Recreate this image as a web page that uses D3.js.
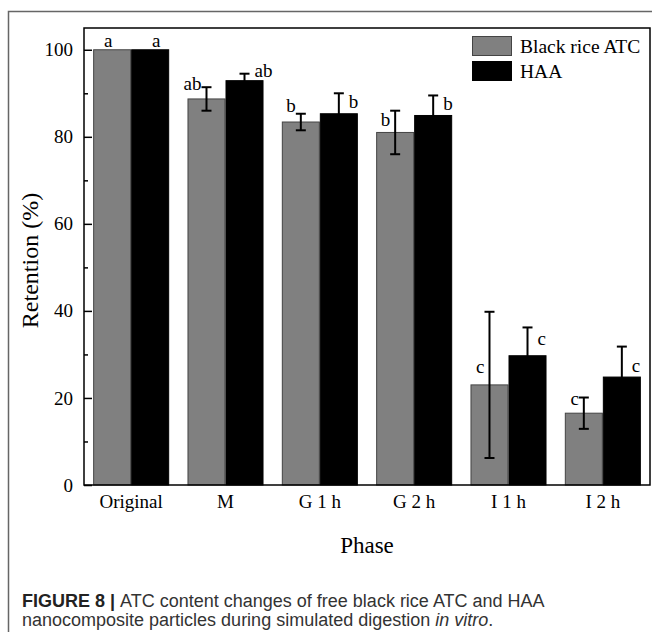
<!DOCTYPE html>
<html>
<head>
<meta charset="utf-8">
<script src="https://cdn.jsdelivr.net/npm/d3@7"></script>
<style>
  body { margin: 0; background: #fff; }
  svg { display: block; }
  .serif { font-family: "Liberation Serif", "Times New Roman", serif; }
</style>
</head>
<body>
<svg id="chart" width="652" height="632"></svg>
<script>
// values
const phases = ["Original", "M", "G 1 h", "G 2 h", "I 1 h", "I 2 h"];
const seriesNames = ["Black rice ATC", "HAA"];
const riceATC = [100, 88.7, 83.4, 81.0, 23.0, 16.5];
const riceErr = [0, 2.7, 1.9, 5.0, 16.8, 3.6];
const haa = [100, 92.9, 85.3, 84.9, 29.7, 24.8];
const haaErr = [0, 1.6, 4.7, 4.6, 6.5, 7.0];
const riceLetters = ["a", "ab", "b", "b", "c", "c"];
const haaLetters = ["a", "ab", "b", "b", "c", "c"];
// level (in %) at which each significance letter sits
const riceLetterAt = [100.7, 90.8, 85.7, 82.5, 25.7, 18.4];
const haaLetterAt = [100.7, 93.8, 86.7, 86.2, 32.2, 26.0];
const yTicks = [0, 20, 40, 60, 80, 100];
const yMinor = [10, 30, 50, 70, 90];

const margin = {top: 28, right: 2, bottom: 147, left: 84};
const W = 652, H = 632;
const width = W - margin.left - margin.right;
const height = H - margin.top - margin.bottom;

const svg = d3.select("#chart");

// outer figure frame (left + top rules)
svg.append("path")
  .attr("d", "M8.5,632 V11.5 H652")
  .attr("fill", "none")
  .attr("stroke", "#666")
  .attr("stroke-width", 1.5);

const x = d3.scaleBand().domain(phases).range([0, width])
  .paddingInner(0.194).paddingOuter(0.097);
const x1 = d3.scaleBand().domain(seriesNames).range([0, x.bandwidth()]);
const y = d3.scaleLinear().domain([0, 105]).range([height, 0]);

const g = svg.append("g")
  .attr("transform", "translate(" + margin.left + "," + margin.top + ")");

const series = [
  {name: seriesNames[0], vals: riceATC, err: riceErr, letters: riceLetters, at: riceLetterAt, fill: "#808080", edge: "#444"},
  {name: seriesNames[1], vals: haa, err: haaErr, letters: haaLetters, at: haaLetterAt, fill: "#000", edge: "#000"}
];

// bars
series.forEach((s, si) => {
  g.selectAll(null)
    .data(phases)
    .enter().append("rect")
    .attr("x", d => x(d) + x1(s.name) + 0.5)
    .attr("y", (d, i) => y(s.vals[i]))
    .attr("width", x1.bandwidth() - 1)
    .attr("height", (d, i) => height - y(s.vals[i]))
    .attr("fill", s.fill)
    .attr("stroke", s.edge)
    .attr("stroke-width", 1);
});

// error bars
series.forEach((s, si) => {
  const eb = g.selectAll(null)
    .data(phases.map((p, i) => ({p: p, v: s.vals[i], e: s.err[i]})).filter(d => d.e > 0))
    .enter().append("g")
    .attr("transform", d => "translate(" + (x(d.p) + x1(s.name) + x1.bandwidth() / 2) + ",0)");
  eb.append("line")
    .attr("y1", d => y(d.v + d.e)).attr("y2", d => y(d.v - d.e))
    .attr("stroke", "#000").attr("stroke-width", 2);
  eb.append("line")
    .attr("x1", -5).attr("x2", 5)
    .attr("y1", d => y(d.v + d.e)).attr("y2", d => y(d.v + d.e))
    .attr("stroke", "#000").attr("stroke-width", 2);
  eb.append("line")
    .attr("x1", -5).attr("x2", 5)
    .attr("y1", d => y(d.v - d.e)).attr("y2", d => y(d.v - d.e))
    .attr("stroke", "#000").attr("stroke-width", 2);
});

// significance letters
series.forEach((s, si) => {
  g.selectAll(null)
    .data(phases)
    .enter().append("text")
    .attr("class", "serif")
    .attr("font-size", 19)
    .attr("fill", "#000")
    .attr("x", (d, i) => {
      const c = x(d) + x1(s.name) + x1.bandwidth() / 2;
      if (s.err[i] === 0) return si === 0 ? c - 4 : c + 6;
      return si === 0 ? c - 5 : c + 10;
    })
    .attr("text-anchor", (d, i) => s.err[i] === 0 ? "middle" : (si === 0 ? "end" : "start"))
    .attr("y", (d, i) => y(s.at[i]))
    .text((d, i) => s.letters[i]);
});

// y axis, ticks pointing inward
const yAxis = d3.axisLeft(y).tickValues(yTicks).tickSizeInner(-8).tickSizeOuter(0).tickPadding(11);
const ya = g.append("g").call(yAxis);
ya.select(".domain").remove();
ya.selectAll("line").attr("stroke", "#000").attr("stroke-width", 1.5);
ya.selectAll("text").attr("class", "serif").attr("font-size", 19).attr("fill", "#000");

const ym = g.append("g").call(d3.axisLeft(y).tickValues(yMinor).tickSizeInner(-4).tickSizeOuter(0).tickFormat(""));
ym.select(".domain").remove();
ym.selectAll("line").attr("stroke", "#000").attr("stroke-width", 1.5);

// x axis labels
const xa = g.append("g").attr("transform", "translate(0," + height + ")")
  .call(d3.axisBottom(x).tickSize(0).tickPadding(10));
xa.select(".domain").remove();
xa.selectAll("text").attr("class", "serif").attr("font-size", 19).attr("fill", "#000");

// plot frame
g.append("rect")
  .attr("width", width).attr("height", height)
  .attr("fill", "none").attr("stroke", "#000").attr("stroke-width", 1.5);

// axis titles
svg.append("text")
  .attr("class", "serif")
  .attr("font-size", 24)
  .attr("text-anchor", "middle")
  .attr("transform", "translate(38," + (margin.top + height / 2 + 4) + ") rotate(-90)")
  .text("Retention (%)");

svg.append("text")
  .attr("class", "serif")
  .attr("font-size", 23)
  .attr("text-anchor", "middle")
  .attr("x", margin.left + width / 2)
  .attr("y", 553)
  .text("Phase");

// legend
const legend = svg.append("g").attr("transform", "translate(472,36)");
series.forEach((s, si) => {
  legend.append("rect")
    .attr("x", 0.5).attr("y", si * 25 + 0.5)
    .attr("width", 39).attr("height", 19)
    .attr("fill", s.fill).attr("stroke", s.edge).attr("stroke-width", 1);
  legend.append("text")
    .attr("class", "serif")
    .attr("font-size", 19.5)
    .attr("x", 48).attr("y", si * 25 + 17)
    .text(s.name);
});

// caption
const cap = svg.append("g")
  .attr("font-family", "'Liberation Sans', Arial, sans-serif")
  .attr("font-size", 18)
  .attr("fill", "#333");
const l1 = cap.append("text").attr("x", 22).attr("y", 607);
l1.append("tspan").attr("font-weight", "bold").attr("fill", "#222").text("FIGURE 8 | ");
l1.append("tspan").text("ATC content changes of free black rice ATC and HAA");
const l2 = cap.append("text").attr("x", 22).attr("y", 626);
l2.append("tspan").text("nanocomposite particles during simulated digestion ");
l2.append("tspan").attr("font-style", "italic").text("in vitro");
l2.append("tspan").text(".");
</script>
</body>
</html>
